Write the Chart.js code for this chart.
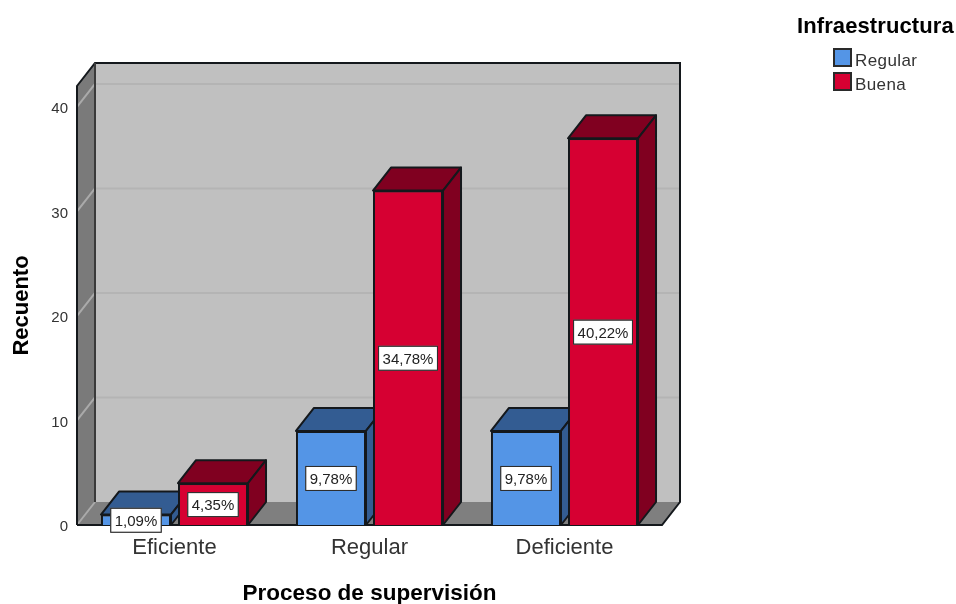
<!DOCTYPE html>
<html lang="es">
<head>
<meta charset="utf-8">
<title>Proceso de supervisión</title>
<script src="https://cdn.jsdelivr.net/npm/chart.js@4"></script>
<style>
    body { margin: 0; background: #fff; }
    canvas { display: block; }
</style>
</head>
<body>
<canvas id="myChart" width="956" height="604"></canvas>
<script>
var categorias = ["Eficiente", "Regular", "Deficiente"];
var serieRegular = [1, 9, 9];
var serieBuena = [4, 32, 37];
var etiquetasRegular = ["1,09%", "9,78%", "9,78%"];
var etiquetasBuena = ["4,35%", "34,78%", "40,22%"];
var nombresSerie = ["Regular", "Buena"];
var tituloLeyenda = "Infraestructura";

var colores = ["#5495e6", "#d60032"];
var coloresOscuros = ["#335c92", "#800020"];
var borde = "#14181c";
var fuente = "'Liberation Sans', Arial, sans-serif";

// profundidad del efecto 3D
var dx = 18;
var dy = 23;

function poligono(ctx, puntos, relleno, linea, grosor) {
    ctx.beginPath();
    ctx.moveTo(puntos[0][0], puntos[0][1]);
    for (var i = 1; i < puntos.length; i++) {
        ctx.lineTo(puntos[i][0], puntos[i][1]);
    }
    ctx.closePath();
    if (relleno) {
        ctx.fillStyle = relleno;
        ctx.fill();
    }
    if (linea) {
        ctx.strokeStyle = linea;
        ctx.lineWidth = grosor;
        ctx.lineJoin = "round";
        ctx.stroke();
    }
}

var paredes = {
    id: "paredes",
    beforeDatasetsDraw: function (chart) {
        var ctx = chart.ctx;
        var a = chart.chartArea;
        var y = chart.scales.y;
        ctx.save();
        // pared del fondo, pared izquierda y piso
        poligono(ctx, [[a.left + dx, a.top - dy], [a.right + dx, a.top - dy], [a.right + dx, a.bottom - dy], [a.left + dx, a.bottom - dy]], "#c0c0c0");
        poligono(ctx, [[a.left, a.top], [a.left + dx, a.top - dy], [a.left + dx, a.bottom - dy], [a.left, a.bottom]], "#7a7a7a");
        poligono(ctx, [[a.left, a.bottom], [a.left + dx, a.bottom - dy], [a.right + dx, a.bottom - dy], [a.right, a.bottom]], "#7f7f7f");

        ctx.lineWidth = 2;
        y.ticks.forEach(function (t) {
            var py = y.getPixelForValue(t.value);
            ctx.strokeStyle = "#aaaaaa";
            ctx.beginPath();
            ctx.moveTo(a.left, py);
            ctx.lineTo(a.left + dx, py - dy);
            ctx.stroke();
            if (t.value > 0) {
                ctx.strokeStyle = "#b4b4b4";
                ctx.beginPath();
                ctx.moveTo(a.left + dx, py - dy);
                ctx.lineTo(a.right + dx, py - dy);
                ctx.stroke();
            }
        });

        ctx.strokeStyle = borde;
        ctx.lineWidth = 2;
        ctx.beginPath();
        ctx.moveTo(a.left, a.bottom);
        ctx.lineTo(a.left, a.top);
        ctx.lineTo(a.left + dx, a.top - dy);
        ctx.lineTo(a.right + dx, a.top - dy);
        ctx.lineTo(a.right + dx, a.bottom - dy);
        ctx.lineTo(a.right, a.bottom);
        ctx.lineTo(a.left, a.bottom);
        ctx.stroke();
        ctx.strokeStyle = "#3a3a3a";
        ctx.beginPath();
        ctx.moveTo(a.left + dx, a.top - dy);
        ctx.lineTo(a.left + dx, a.bottom - dy);
        ctx.stroke();
        ctx.restore();
    },
    beforeDatasetDraw: function (chart, args) {
        // caras superior y lateral de cada barra
        var ctx = chart.ctx;
        var meta = chart.getDatasetMeta(args.index);
        ctx.save();
        meta.data.forEach(function (bar) {
            var x0 = bar.x - bar.width / 2;
            var x1 = bar.x + bar.width / 2;
            var oscuro = coloresOscuros[args.index];
            poligono(ctx, [[x0, bar.y], [x0 + dx, bar.y - dy], [x1 + dx, bar.y - dy], [x1, bar.y]], oscuro, borde, 2);
            poligono(ctx, [[x1, bar.y], [x1 + dx, bar.y - dy], [x1 + dx, bar.base - dy], [x1, bar.base]], oscuro, borde, 2);
        });
        ctx.restore();
    },
    afterDatasetsDraw: function (chart) {
        var ctx = chart.ctx;
        var listas = [etiquetasRegular, etiquetasBuena];

        // la serie Buena va delante de las caras de la serie Regular
        chart.getDatasetMeta(1).data.forEach(function (bar) {
            bar.draw(ctx);
        });

        ctx.save();
        ctx.font = "15px " + fuente;
        ctx.textAlign = "center";
        ctx.textBaseline = "middle";
        listas.forEach(function (lista, d) {
            chart.getDatasetMeta(d).data.forEach(function (bar, i) {
                var cy = (bar.y + bar.base) / 2;
                var w = ctx.measureText(lista[i]).width + 7;
                ctx.fillStyle = "#8c8c8c";
                ctx.fillRect(bar.x - w / 2 - 1, cy - 12, w + 2, 25);
                ctx.fillStyle = "#ffffff";
                ctx.fillRect(bar.x - w / 2, cy - 11, w, 23);
                ctx.strokeStyle = "#2a2a2a";
                ctx.lineWidth = 1;
                ctx.strokeRect(bar.x - w / 2 - 0.5, cy - 11.5, w + 1, 24);
                ctx.fillStyle = "#222222";
                ctx.fillText(lista[i], bar.x, cy + 2);
            });
        });

        // leyenda
        ctx.textAlign = "left";
        ctx.fillStyle = "#000000";
        ctx.font = "bold 22px " + fuente;
        ctx.letterSpacing = "0.1px";
        ctx.fillText(tituloLeyenda, 797, 27);
        ctx.font = "17px " + fuente;
        ctx.letterSpacing = "0.4px";
        nombresSerie.forEach(function (nombre, i) {
            var ly = 48 + i * 24;
            ctx.fillStyle = colores[i];
            ctx.fillRect(834, ly + 1, 17, 17);
            ctx.strokeStyle = "#2a2a2a";
            ctx.lineWidth = 2;
            ctx.strokeRect(834, ly + 1, 17, 17);
            ctx.fillStyle = "#333333";
            ctx.fillText(nombre, 855, ly + 13);
        });
        ctx.restore();
    }
};

window.onload = function () {
    var ctx = document.getElementById("myChart").getContext("2d");
    var myChart = new Chart(ctx, {
        type: "bar",
        data: {
            labels: categorias,
            datasets: [{
                label: nombresSerie[0],
                data: serieRegular,
                backgroundColor: colores[0],
                borderColor: borde,
                borderWidth: 2,
                categoryPercentage: 0.79,
                barPercentage: 0.909
            }, {
                label: nombresSerie[1],
                data: serieBuena,
                backgroundColor: colores[1],
                borderColor: borde,
                borderWidth: 2,
                categoryPercentage: 0.79,
                barPercentage: 0.909
            }]
        },
        options: {
            responsive: false,
            animation: false,
            layout: { padding: { top: 86, right: 294, left: 0, bottom: 0 } },
            plugins: {
                legend: { display: false },
                tooltip: { enabled: false }
            },
            scales: {
                x: {
                    grid: { display: false, drawTicks: false },
                    border: { display: false },
                    ticks: { color: "#333333", padding: 10, font: { family: fuente, size: 22 }, maxRotation: 0 },
                    title: {
                        display: true,
                        text: "Proceso de supervisión",
                        color: "#000000",
                        padding: 0,
                        font: { family: fuente, size: 22.5, weight: "bold", lineHeight: 0.9 }
                    },
                    afterFit: function (scale) { scale.height = 79; }
                },
                y: {
                    min: 0,
                    max: 42,
                    grid: { display: false, drawTicks: false },
                    border: { display: false },
                    ticks: { stepSize: 10, includeBounds: false, color: "#333333", padding: 9, labelOffset: 2, font: { family: fuente, size: 15 } },
                    title: {
                        display: true,
                        text: "Recuento",
                        color: "#000000",
                        padding: { top: 11, bottom: 0 },
                        font: { family: fuente, size: 22, weight: "bold", lineHeight: 1 }
                    },
                    afterFit: function (scale) { scale.width = 77; }
                }
            }
        },
        plugins: [paredes]
    });
};
</script>
</body>
</html>
